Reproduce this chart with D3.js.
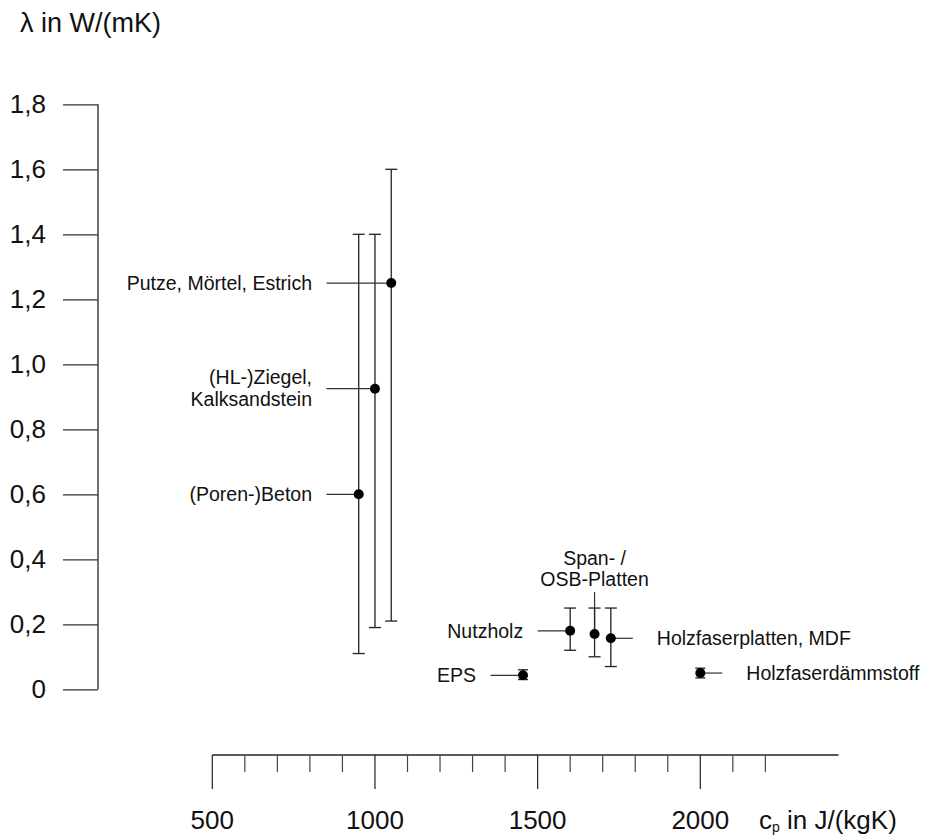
<!DOCTYPE html>
<html>
<head>
<meta charset="utf-8">
<script src="https://cdn.jsdelivr.net/npm/d3@7"></script>
<style>
  body { margin: 0; background: #fff; }
  svg text { font-family: "Liberation Sans", Arial, sans-serif; fill: #111; }
</style>
</head>
<body>
<div id="chart"></div>
<script>
// materials, heat capacity cp (J/(kgK)), conductivity lambda (W/(mK)) with range
var names   = ["(Poren-)Beton", "(HL-)Ziegel,\nKalksandstein", "Putze, Mörtel, Estrich",
               "EPS", "Nutzholz", "Span- /\nOSB-Platten", "Holzfaserplatten, MDF", "Holzfaserdämmstoff"];
var cp      = [950, 1000, 1050, 1455, 1600, 1675, 1725, 2000];
var lambda  = [0.60, 0.925, 1.25, 0.043, 0.18, 0.17, 0.157, 0.05];
var lamLow  = [0.11, 0.19, 0.21, 0.03, 0.12, 0.10, 0.07, 0.035];
var lamHigh = [1.40, 1.40, 1.60, 0.06, 0.25, 0.25, 0.25, 0.065];
var labelSide = ["left", "left", "left", "left", "left", "top", "right", "right"];

var yTicks = [0, 0.2, 0.4, 0.6, 0.8, 1.0, 1.2, 1.4, 1.6, 1.8];
var xMajor = [500, 1000, 1500, 2000];
var xMinor = [600, 700, 800, 900, 1100, 1200, 1300, 1400, 1600, 1700, 1800, 1900, 2100, 2200];

var width = 934, height = 836;

var svg = d3.select("#chart").append("svg")
  .attr("width", width)
  .attr("height", height);

var x = d3.scaleLinear().domain([500, 2000]).range([212.3, 700.3]);
var y = d3.scaleLinear().domain([0, 1.8]).range([689.3, 104.3]);

var fmt = function(v) { return v == 0 ? "0" : d3.format(".1f")(v).replace(".", ","); };

//y axis, ticks to the left
var yAxis = svg.append("g").attr("transform", "translate(98,0)")
  .call(d3.axisLeft(y).tickValues(yTicks).tickSize(35).tickSizeOuter(0).tickFormat(fmt));
yAxis.select(".domain").attr("stroke", "#222").attr("stroke-width", 1.3)
  .attr("d", "M0," + y(1.8) + "V" + y(0));
yAxis.selectAll(".tick line").attr("stroke", "#333").attr("stroke-width", 1.2);
yAxis.selectAll(".tick text")
  .attr("x", -52).attr("dy", "0.3em")
  .style("font-size", "26px").attr("fill", "#111");

svg.append("text").attr("x", 20).attr("y", 32)
  .style("font-size", "27px").text("λ in W/(mK)");

//x axis sits below the plot
var xg = svg.append("g").attr("transform", "translate(0,755)");
xg.append("line").attr("x1", x(500)).attr("x2", x(2425))
  .attr("stroke", "#222").attr("stroke-width", 1.3);
xg.selectAll("line.minor").data(xMinor).enter().append("line")
  .attr("class", "minor")
  .attr("x1", function(d) { return x(d); }).attr("x2", function(d) { return x(d); })
  .attr("y1", 0).attr("y2", 17)
  .attr("stroke", "#444").attr("stroke-width", 1.2);
xg.selectAll("line.major").data(xMajor).enter().append("line")
  .attr("class", "major")
  .attr("x1", function(d) { return x(d); }).attr("x2", function(d) { return x(d); })
  .attr("y1", 0).attr("y2", 34)
  .attr("stroke", "#222").attr("stroke-width", 1.2);
xg.selectAll("text.lab").data(xMajor).enter().append("text")
  .attr("class", "lab")
  .attr("x", function(d) { return x(d); }).attr("y", 74)
  .attr("text-anchor", "middle")
  .style("font-size", "26px")
  .text(function(d) { return d; });

var xt = xg.append("text").attr("x", 759).attr("y", 74).style("font-size", "26px");
xt.append("tspan").text("c");
xt.append("tspan").attr("dy", 3).style("font-size", "14px").text("p");
xt.append("tspan").attr("dy", -3).text(" in J/(kgK)");

//points
var pts = names.map(function(n, i) {
  return { name: n, cp: cp[i], l: lambda[i], lo: lamLow[i], hi: lamHigh[i], side: labelSide[i] };
});

var g = svg.append("g");
var cap = 6;

pts.forEach(function(d) {
  var px = x(d.cp), py = y(d.l);
  var lines = d.name.split("\n");

  //leader line + label
  if (d.side == "left") {
    var tx = d.cp >= 1400 ? px - 47 : 312;
    g.append("line").attr("x1", tx + 14.5).attr("x2", px).attr("y1", py).attr("y2", py)
      .attr("stroke", "#333").attr("stroke-width", 1.2);
    var t = g.append("text").attr("x", tx).attr("text-anchor", "end").style("font-size", "19.5px");
    var y0 = py + 7 - (lines.length - 1) * 11.5;
    lines.forEach(function(s, k) {
      t.append("tspan").attr("x", tx).attr("y", y0 + k * 22).text(s);
    });
  } else if (d.side == "right") {
    g.append("line").attr("x1", px).attr("x2", px + 22).attr("y1", py).attr("y2", py)
      .attr("stroke", "#333").attr("stroke-width", 1.2);
    g.append("text").attr("x", px + 46).attr("y", py + 7).style("font-size", "19.5px").text(d.name);
  } else {
    g.append("line").attr("x1", px).attr("x2", px).attr("y1", 592).attr("y2", py)
      .attr("stroke", "#333").attr("stroke-width", 1.2);
    var t2 = g.append("text").attr("text-anchor", "middle").style("font-size", "19.5px");
    lines.forEach(function(s, k) {
      t2.append("tspan").attr("x", px).attr("y", 565 + k * 21).text(s);
    });
  }

  //error bar
  var c = d.hi - d.lo < 0.05 ? 5 : cap;
  g.append("line").attr("x1", px).attr("x2", px).attr("y1", y(d.hi)).attr("y2", y(d.lo))
    .attr("stroke", "#222").attr("stroke-width", 1.3);
  [d.hi, d.lo].forEach(function(v) {
    g.append("line").attr("x1", px - c).attr("x2", px + c).attr("y1", y(v)).attr("y2", y(v))
      .attr("stroke", "#222").attr("stroke-width", 1.3);
  });

  g.append("circle").attr("cx", px).attr("cy", py).attr("r", 5).attr("fill", "#000");
});
</script>
</body>
</html>
